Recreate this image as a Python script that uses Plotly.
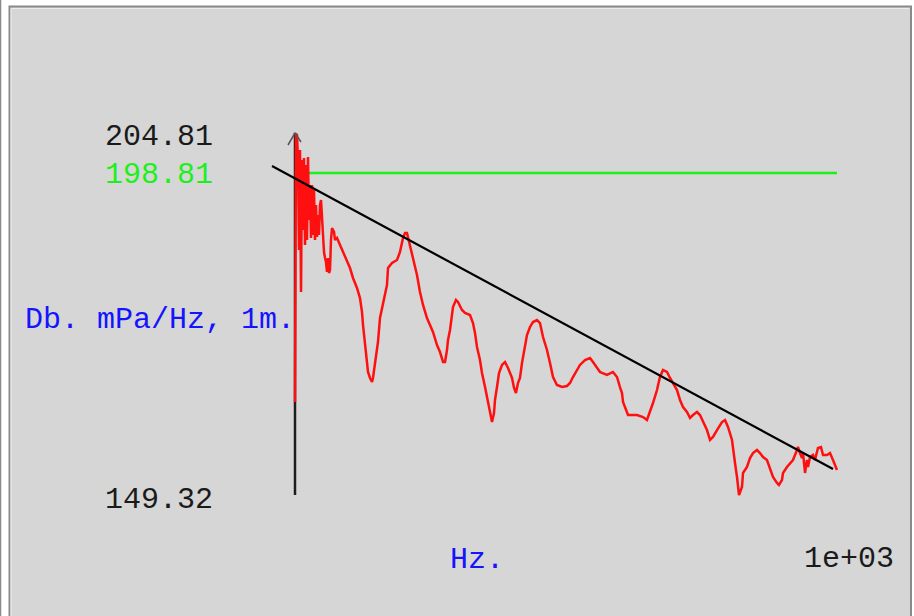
import plotly.graph_objects as go

# Spectrum level (dB re 1 mPa/Hz at 1 m) against frequency (Hz)
freq_hz = [
    0, 1.8, 3.7, 5.5, 7.4, 9.2, 11.1, 12.9, 14.8, 16.6, 18.5, 20.3, 22.1, 24.0, 25.8,
    27.7, 29.5, 31.4, 33.2, 35.1, 36.9, 38.7, 40.6, 42.4, 44.3, 46.1, 48.0, 49.8, 51.7,
    53.5, 55.4, 57.2, 59.0, 60.9, 62.7, 64.6, 66.4, 68.3, 72.0, 73.8, 77.5, 83.0, 88.6,
    95.9, 101.5, 107.0, 114.4, 119.9, 123.6, 125.5, 129.2, 132.8, 134.7, 138.4, 142.1,
    143.9, 147.6, 153.1, 156.8, 162.4, 169.7, 171.6, 179.0, 188.2, 193.7, 199.3, 203.0,
    206.6, 212.2, 217.7, 225.1, 230.6, 236.2, 243.5, 249.1, 254.6, 262.0, 267.5, 273.1,
    276.8, 280.4, 282.3, 286.0, 289.7, 291.5, 297.0, 300.7, 308.1, 313.7, 322.9, 328.4,
    332.1, 335.8, 341.3, 345.0, 350.6, 356.1, 359.8, 363.5, 367.2, 369.0, 372.7, 376.4,
    381.9, 387.5, 393.0, 400.4, 404.1, 407.7, 411.4, 415.1, 418.8, 424.4, 428.0, 433.6,
    439.1, 446.5, 452.0, 457.6, 464.9, 470.5, 476.0, 483.4, 492.6, 501.8, 507.4, 512.9,
    520.3, 525.8, 535.1, 544.3, 549.8, 557.2, 562.7, 566.4, 575.6, 586.7, 594.1, 599.6,
    603.3, 605.2, 608.9, 614.4, 631.0, 642.1, 649.4, 655.0, 660.5, 667.9, 673.4, 679.0,
    686.3, 691.9, 697.4, 704.8, 710.3, 715.9, 723.2, 728.8, 734.3, 741.7, 747.2, 752.8,
    760.1, 765.7, 771.2, 778.6, 787.8, 793.4, 798.9, 806.3, 808.1, 811.8, 815.5, 817.3,
    819.2, 824.7, 826.6, 833.9, 839.5, 845.0, 852.4, 857.9, 863.5, 870.8, 876.4, 881.9,
    889.3, 892.9, 898.5, 900.4, 907.7, 913.3, 918.8, 926.2, 928.0, 931.7, 935.4, 937.3,
    941.0, 944.6, 946.5, 950.2, 955.7, 959.4, 964.9, 970.5, 974.2, 981.5, 987.1, 992.6,
    1000.0,
]
level_db = [
    163.62, 204.81, 204.66, 200.81, 186.98, 202.35, 180.53, 200.81, 190.05, 201.12,
    187.75, 200.05, 188.52, 201.27, 191.59, 196.97, 188.83, 196.97, 189.29, 196.20,
    188.52, 193.90, 188.98, 192.36, 189.29, 193.90, 194.67, 192.36, 188.21, 186.67,
    185.75, 185.14, 183.60, 185.75, 183.45, 183.91, 188.52, 190.36, 189.75, 188.52,
    188.83, 187.75, 186.67, 185.14, 184.21, 182.68, 181.14, 179.60, 177.45, 175.45,
    172.38, 170.07, 168.23, 167.31, 166.69, 167.31, 169.77, 172.84, 176.53, 178.99,
    181.60, 184.21, 184.98, 185.44, 186.67, 188.83, 189.59, 189.59, 187.75, 185.75,
    183.14, 180.53, 178.53, 176.53, 175.45, 174.38, 172.38, 171.30, 169.77, 169.77,
    171.61, 173.15, 174.68, 176.68, 178.22, 179.30, 178.99, 177.76, 177.30, 176.99,
    175.76, 174.22, 172.07, 170.07, 168.08, 165.92, 163.46, 161.93, 160.54, 161.93,
    163.93, 165.92, 168.08, 169.31, 169.77, 168.84, 167.31, 165.77, 165.00, 166.54,
    167.31, 169.61, 172.69, 173.92, 175.15, 175.91, 176.22, 175.76, 173.61, 171.61,
    169.61, 167.46, 166.23, 165.92, 166.08, 166.54, 167.46, 168.54, 169.31, 170.07,
    170.38, 169.77, 168.84, 168.23, 168.08, 167.77, 168.23, 167.46, 165.92, 165.00,
    163.62, 162.70, 161.62, 161.62, 161.31, 160.85, 162.08, 163.46, 165.46, 167.46,
    168.54, 168.23, 167.31, 166.54, 165.46, 163.93, 162.85, 162.08, 161.16, 161.62,
    162.08, 161.62, 160.54, 159.31, 157.78, 158.24, 159.31, 160.54, 160.85, 159.78,
    157.78, 156.24, 154.24, 152.09, 150.55, 149.32, 150.55, 152.71, 153.63, 155.01,
    155.78, 156.24, 155.78, 155.16, 154.70, 153.47, 152.09, 151.17, 150.86, 151.63,
    152.71, 153.63, 154.24, 154.70, 156.24, 156.70, 155.78, 155.01, 155.78, 152.71,
    154.70, 153.63, 155.16, 155.47, 154.70, 156.55, 156.70, 155.47, 155.47, 155.78,
    154.70, 153.17,
]

# Fitted trend line (end points)
trend_hz = [-42.4, 992.6]
trend_db = [199.89, 153.32]

# Reference level and axis limits
ref_level = 198.81
ref_hz = [0, 1000]
y_top_label = "204.81"
y_ref_label = "198.81"
y_bottom_label = "149.32"
y_unit_label = "Db. mPa/Hz, 1m."
x_unit_label = "Hz."
x_max_label = "1e+03"

W, H = 914, 616
BG = "#d6d6d6"
MONO = "Liberation Mono, Courier New, monospace"


def px(x):
    return x / W


def py(y):
    return 1 - y / H


fig = go.Figure()

# frequency axis line with arrow tip
fig.add_trace(go.Scatter(
    x=[0, 0], y=[min(level_db), max(level_db) + 0.2], mode="lines",
    line=dict(color="#1e1e1e", width=2.5), hoverinfo="skip", showlegend=False,
))

# reference level
fig.add_trace(go.Scatter(
    x=ref_hz, y=[ref_level, ref_level], mode="lines",
    line=dict(color="#1cf01c", width=2.5), hoverinfo="skip", showlegend=False,
))

# spectrum
fig.add_trace(go.Scatter(
    x=freq_hz, y=level_db, mode="lines",
    line=dict(color="#ff1010", width=2.5), hoverinfo="skip", showlegend=False,
))

# trend
fig.add_trace(go.Scatter(
    x=trend_hz, y=trend_db, mode="lines",
    line=dict(color="#000000", width=2.2), hoverinfo="skip", showlegend=False,
))

shapes = [
    # panel frame
    dict(type="rect", xref="paper", yref="paper",
         x0=px(9.5), x1=px(911), y0=py(640), y1=py(6.5),
         fillcolor=BG, line=dict(color="#8a8a8a", width=2), layer="below"),
    dict(type="line", xref="paper", yref="paper",
         x0=px(11), x1=px(909), y0=py(8.5), y1=py(8.5),
         line=dict(color="#ececec", width=1), layer="below"),
    dict(type="line", xref="paper", yref="paper",
         x0=px(11), x1=px(11), y0=py(8.5), y1=py(640),
         line=dict(color="#ececec", width=1), layer="below"),
    dict(type="line", xref="paper", yref="paper",
         x0=px(0.5), x1=px(0.5), y0=0, y1=1,
         line=dict(color="#8a8a8a", width=1.5), layer="below"),
    # arrow head on the level axis
    dict(type="line", xref="paper", yref="paper",
         x0=px(288), x1=px(295), y0=py(145), y1=py(133),
         line=dict(color="#555555", width=1.5)),
    dict(type="line", xref="paper", yref="paper",
         x0=px(295), x1=px(301), y0=py(133), y1=py(142),
         line=dict(color="#555555", width=1.5)),
]


def label(text, x, y, color):
    return dict(text=text, xref="paper", yref="paper", x=px(x), y=py(y),
                xanchor="left", yanchor="middle", showarrow=False,
                font=dict(family=MONO, size=30, color=color))


annotations = [
    label(y_top_label, 103, 137, "#1a1a1a"),
    label(y_ref_label, 103, 175, "#1cf01c"),
    label(y_unit_label, 23, 320, "#1414ff"),
    label(y_bottom_label, 103, 500, "#1a1a1a"),
    label(x_unit_label, 448, 560, "#1414ff"),
    label(x_max_label, 802, 559, "#1a1a1a"),
]

fig.update_layout(
    width=W, height=H,
    margin=dict(l=0, r=0, t=0, b=0),
    paper_bgcolor="white", plot_bgcolor="rgba(0,0,0,0)",
    xaxis=dict(visible=False, range=[-295 / 0.542, (W - 295) / 0.542], fixedrange=True),
    yaxis=dict(visible=False, range=[204.81 - (H - 134) * 0.1537, 204.81 + 134 * 0.1537],
               fixedrange=True),
    shapes=shapes,
    annotations=annotations,
    showlegend=False,
)

fig.write_html("out.html", config={"displayModeBar": False})
